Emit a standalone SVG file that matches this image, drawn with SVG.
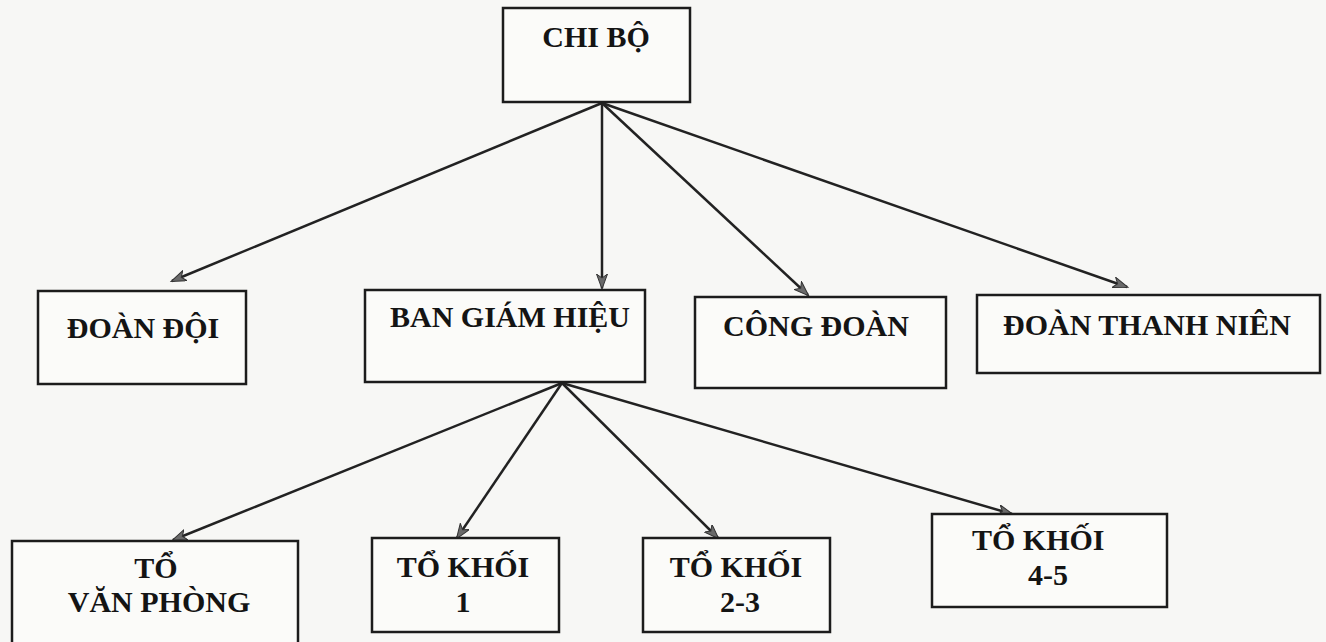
<svg xmlns="http://www.w3.org/2000/svg" width="1326" height="642" viewBox="0 0 1326 642">
  <style>
    .box { fill: #fbfbf9; stroke: #1c1c1c; stroke-width: 2.5; }
    .lbl { font-family: "Liberation Serif", "Times New Roman", serif; font-weight: bold; font-size: 30px; fill: #141414; }
    .mid { text-anchor: middle; }
    .edge { stroke: #222; stroke-width: 2.5; fill: none; marker-end: url(#arr); }
  </style>
  <defs>
    <marker id="arr" markerUnits="userSpaceOnUse" markerWidth="17" markerHeight="13" refX="14" refY="5.5" orient="auto">
      <path d="M0,0 L15,5.5 L0,11 L4,5.5 Z" fill="#6a6a6a" stroke="#333" stroke-width="1"/>
    </marker>
  </defs>
  <rect x="0" y="0" width="1326" height="642" fill="#f7f7f5"/>

  <g id="connectors">
    <line class="edge" x1="602" y1="103" x2="172" y2="281"/>
    <line class="edge" x1="602" y1="103" x2="602" y2="288"/>
    <line class="edge" x1="602" y1="103" x2="808" y2="295"/>
    <line class="edge" x1="602" y1="103" x2="1127" y2="287"/>
    <line class="edge" x1="562" y1="383" x2="173" y2="540"/>
    <line class="edge" x1="562" y1="383" x2="457" y2="538"/>
    <line class="edge" x1="562" y1="383" x2="718" y2="538"/>
    <line class="edge" x1="562" y1="383" x2="1012" y2="514"/>
  </g>

  <g id="chi-bo">
    <rect class="box" x="503" y="8" width="187" height="94"/>
    <text class="lbl mid" x="596" y="47">CHI BỘ</text>
  </g>
  <g id="doan-doi">
    <rect class="box" x="38" y="291" width="208" height="93"/>
    <text class="lbl mid" x="143" y="338">ĐOÀN ĐỘI</text>
  </g>
  <g id="ban-giam-hieu">
    <rect class="box" x="365" y="290" width="280" height="92"/>
    <text class="lbl" x="390" y="327">BAN GIÁM HIỆU</text>
  </g>
  <g id="cong-doan">
    <rect class="box" x="695" y="297" width="251" height="91"/>
    <text class="lbl" x="723" y="336">CÔNG ĐOÀN</text>
  </g>
  <g id="doan-thanh-nien">
    <rect class="box" x="977" y="295" width="343" height="78"/>
    <text class="lbl" x="1003" y="335">ĐOÀN THANH NIÊN</text>
  </g>
  <g id="to-van-phong">
    <rect class="box" x="12" y="541" width="286" height="130"/>
    <text class="lbl mid" x="156" y="578">TỔ</text>
    <text class="lbl mid" x="159" y="612">VĂN PHÒNG</text>
  </g>
  <g id="to-khoi-1">
    <rect class="box" x="372" y="538" width="187" height="94"/>
    <text class="lbl mid" x="463" y="577">TỔ KHỐI</text>
    <text class="lbl mid" x="463" y="612">1</text>
  </g>
  <g id="to-khoi-2-3">
    <rect class="box" x="643" y="538" width="187" height="94"/>
    <text class="lbl mid" x="736" y="577">TỔ KHỐI</text>
    <text class="lbl mid" x="740" y="612">2-3</text>
  </g>
  <g id="to-khoi-4-5">
    <rect class="box" x="932" y="514" width="235" height="93"/>
    <text class="lbl" x="972" y="550">TỔ KHỐI</text>
    <text class="lbl" x="1028" y="585">4-5</text>
  </g>
</svg>
